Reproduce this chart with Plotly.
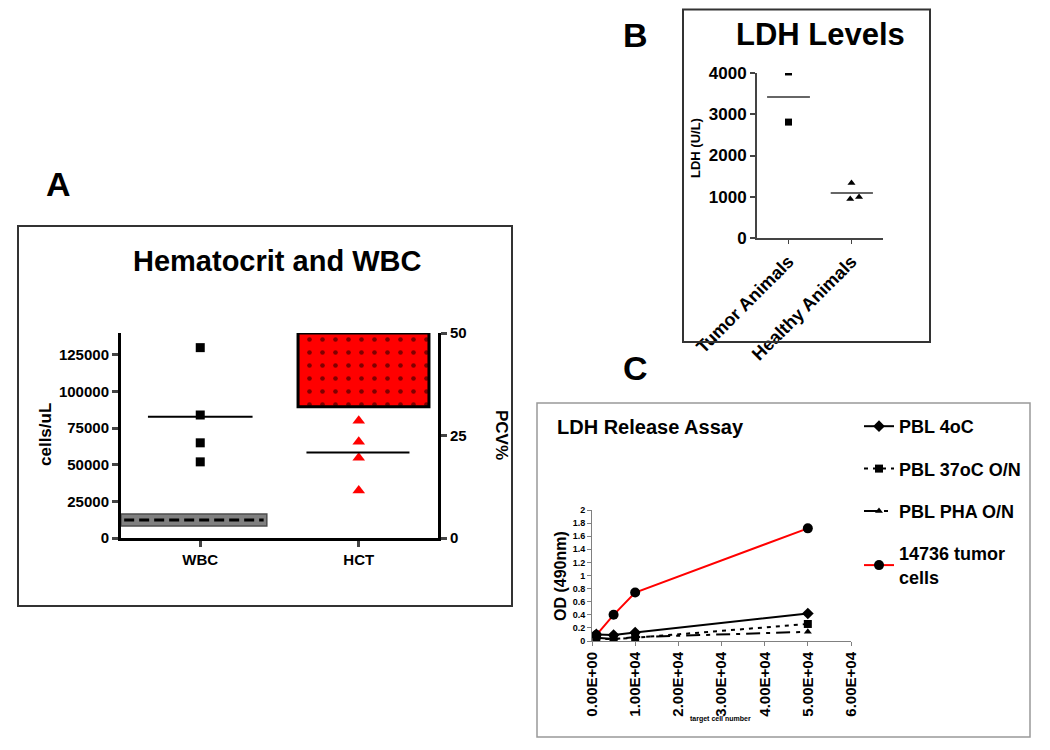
import numpy as np
import plotly.graph_objects as go

# page body has an 8px margin, so the figure origin sits at (8, 8) in the window
OFF = 8
W, H = 1042, 742
def px(x): return (x - OFF) / W
def py(y): return 1 - (y - OFF) / H

FONT = "Liberation Sans, Arial, sans-serif"

# ---------------- Panel A data ----------------
a_categories = ["WBC", "HCT"]
wbc_values = [130000, 84000, 65000, 52000]          # cells/uL
hct_values = [28.6, 23.5, 19.6, 11.6]               # PCV%
wbc_normal_range = [8200, 16400]                    # cells/uL
hct_normal_range = [32, 50]                         # PCV%
a_left_ticks = [0, 25000, 50000, 75000, 100000, 125000]
a_right_ticks = [0, 25, 50]

# ---------------- Panel B data ----------------
b_categories = ["Tumor Animals", "Healthy Animals"]
ldh_tumor = [4025, 2810]
ldh_healthy = [1333, 945, 994]
ldh_healthy_jitter = [0.0, -0.02, 0.12]
b_ticks = [0, 1000, 2000, 3000, 4000]

# ---------------- Panel C data ----------------
target_cells = [1000, 5000, 10000, 50000]
pbl_4oc = [0.10, 0.09, 0.13, 0.42]
pbl_37oc = [0.03, 0.03, 0.05, 0.26]
pbl_pha = [0.05, 0.03, 0.06, 0.14]
tumor_14736 = [0.09, 0.40, 0.74, 1.72]
c_xticks = [0, 10000, 20000, 30000, 40000, 50000, 60000]
c_xticklabels = ["0.00E+00", "1.00E+04", "2.00E+04", "3.00E+04", "4.00E+04", "5.00E+04", "6.00E+04"]

fig = go.Figure()

# ---- Panel A ----
lo, hi = wbc_normal_range
fig.add_trace(go.Bar(x=[-0.04], y=[hi - lo], base=[lo], width=[0.92],
                     marker=dict(color="#808080", line=dict(color="#4d4d4d", width=1.5)),
                     xaxis="x", yaxis="y", showlegend=False, hoverinfo="skip"))
mid = np.mean(wbc_normal_range)
fig.add_trace(go.Scatter(x=[-0.48, 0.40], y=[mid, mid], mode="lines",
                         line=dict(color="black", width=3, dash="10px,5px"),
                         xaxis="x", yaxis="y", showlegend=False, hoverinfo="skip"))
fig.add_trace(go.Scatter(x=[0] * len(wbc_values), y=wbc_values, mode="markers",
                         marker=dict(symbol="square", size=9, color="black"),
                         xaxis="x", yaxis="y", showlegend=False))
m = np.mean(wbc_values)
fig.add_trace(go.Scatter(x=[-0.33, 0.33], y=[m, m], mode="lines",
                         line=dict(color="black", width=2),
                         xaxis="x", yaxis="y", showlegend=False))

lo2, hi2 = hct_normal_range
fig.add_trace(go.Bar(x=[1.03], y=[hi2 - lo2], base=[lo2], width=[0.826],
                     marker=dict(color="red", line=dict(color="black", width=3),
                                 pattern=dict(shape=".", fgcolor="black", bgcolor="red",
                                              size=13, solidity=0.1)),
                     xaxis="x", yaxis="y2", showlegend=False, hoverinfo="skip"))
fig.add_trace(go.Scatter(x=[1] * len(hct_values), y=hct_values, mode="markers",
                         marker=dict(symbol="triangle-up", size=11, color="red"),
                         xaxis="x", yaxis="y2", showlegend=False))
m2 = np.mean(hct_values)
fig.add_trace(go.Scatter(x=[0.67, 1.32], y=[m2, m2], mode="lines",
                         line=dict(color="black", width=2),
                         xaxis="x", yaxis="y2", showlegend=False))

# ---- Panel B ----
fig.add_trace(go.Scatter(x=[0] * len(ldh_tumor), y=ldh_tumor, mode="markers",
                         marker=dict(symbol="square", size=7, color="black"),
                         cliponaxis=True, xaxis="x3", yaxis="y3", showlegend=False))
mt = np.mean(ldh_tumor)
fig.add_trace(go.Scatter(x=[-0.34, 0.34], y=[mt, mt], mode="lines",
                         line=dict(color="#666666", width=2),
                         xaxis="x3", yaxis="y3", showlegend=False))
fig.add_trace(go.Scatter(x=[1 + j for j in ldh_healthy_jitter], y=ldh_healthy, mode="markers",
                         marker=dict(symbol="triangle-up", size=7, color="black"),
                         xaxis="x3", yaxis="y3", showlegend=False))
mh = np.mean(ldh_healthy)
fig.add_trace(go.Scatter(x=[0.67, 1.34], y=[mh, mh], mode="lines",
                         line=dict(color="#333333", width=1.5),
                         xaxis="x3", yaxis="y3", showlegend=False))

# ---- Panel C ----
series = [
    ("PBL 4oC", pbl_4oc, "black", "solid", "diamond", 9, "g1"),
    ("PBL 37oC O/N", pbl_37oc, "black", "4px,5px", "square", 8, "g2"),
    ("PBL PHA O/N", pbl_pha, "black", "14px,6px,4px,6px", "triangle-up", 7, "g3"),
    ("14736 tumor<br>cells", tumor_14736, "red", "solid", "circle", 10, "g4"),
]
for name, vals, col, dash, sym, sz, grp in series:
    fig.add_trace(go.Scatter(x=target_cells, y=vals, mode="lines+markers", name=name,
                             line=dict(color=col, width=2, dash=dash),
                             marker=dict(symbol=sym, size=sz, color="black"),
                             legendgroup=grp, xaxis="x4", yaxis="y4"))

bold = dict(family=FONT, color="black", weight="bold")

fig.update_layout(
    width=W, height=H, margin=dict(l=0, r=0, t=0, b=0, autoexpand=False),
    paper_bgcolor="white", plot_bgcolor="rgba(0,0,0,0)",
    barmode="overlay", font=dict(family=FONT, color="black"),
    xaxis=dict(domain=[px(121), px(438)], range=[-0.5, 1.5], anchor="y", automargin=False,
               tickvals=[0, 1], ticktext=a_categories, ticks="outside", ticklen=6, tickwidth=3,
               showline=True, linewidth=3, linecolor="black", showgrid=False, zeroline=False,
               tickfont=dict(size=15, **bold), fixedrange=True),
    yaxis=dict(domain=[py(538), py(333)], range=[0, 140000], anchor="x", automargin=False,
               tickvals=a_left_ticks, tickformat="d", ticks="outside", ticklen=6, tickwidth=3,
               showline=True, linewidth=3, linecolor="black", showgrid=False, zeroline=False,
               tickfont=dict(size=15, **bold)),
    yaxis2=dict(range=[0, 50], overlaying="y", side="right", anchor="x", automargin=False,
                tickvals=a_right_ticks, ticks="outside", ticklen=6, tickwidth=3,
                showline=True, linewidth=3, linecolor="black", showgrid=False, zeroline=False,
                tickfont=dict(size=15, **bold)),
    xaxis3=dict(domain=[px(757), px(883)], range=[-0.5, 1.5], anchor="y3", automargin=False,
                tickvals=[0, 1], ticktext=b_categories, tickangle=-45, ticks="outside", ticklen=4,
                showline=True, linewidth=2, linecolor="#444444", tickcolor="#444444",
                showgrid=False, zeroline=False, tickfont=dict(size=18, **bold)),
    yaxis3=dict(domain=[py(238), py(73)], range=[0, 4000], anchor="x3", automargin=False,
                tickvals=b_ticks, ticks="outside", ticklen=5, tickwidth=2,
                showline=True, linewidth=2, linecolor="#444444", tickcolor="#444444",
                showgrid=False, zeroline=False, tickfont=dict(size=17, **bold)),
    xaxis4=dict(domain=[px(592), px(851)], range=[0, 60000], anchor="y4", automargin=False,
                tickvals=c_xticks, ticktext=c_xticklabels, tickangle=-90, ticks="outside", ticklen=4,
                showline=True, linewidth=1, linecolor="#808080", tickcolor="#808080",
                showgrid=False, zeroline=False, tickfont=dict(size=15, **bold)),
    yaxis4=dict(domain=[py(641), py(510)], range=[0, 2], dtick=0.2, anchor="x4", automargin=False,
                ticks="outside", ticklen=4, showline=True, linewidth=1, linecolor="#808080",
                tickcolor="#808080", showgrid=False, zeroline=False,
                tickfont=dict(size=9, **bold)),
    legend=dict(x=px(859), y=py(408), xanchor="left", yanchor="top",
                font=dict(size=18, **bold), traceorder="grouped", tracegroupgap=16,
                bgcolor="rgba(0,0,0,0)", itemwidth=30),
)

shapes = [
    dict(type="rect", xref="paper", yref="paper", x0=px(18), x1=px(512), y0=py(606), y1=py(226),
         line=dict(color="#333333", width=2)),
    dict(type="rect", xref="paper", yref="paper", x0=px(683), x1=px(930), y0=py(342), y1=py(9.5),
         line=dict(color="#333333", width=2)),
    dict(type="rect", xref="paper", yref="paper", x0=px(537), x1=px(1030), y0=py(737), y1=py(403),
         line=dict(color="#999999", width=1.5)),
]
fig.update_layout(shapes=shapes)

def ann(text, x, y, size, angle=0, xanchor="center", weight="bold"):
    fig.add_annotation(text=text, x=px(x), y=py(y), xref="paper", yref="paper",
                       showarrow=False, textangle=angle, xanchor=xanchor, yanchor="middle",
                       font=dict(family=FONT, size=size, color="black", weight=weight))

ann("A", 58, 184, 34)
ann("B", 635, 35, 34)
ann("C", 635, 368, 34)
ann("Hematocrit and WBC", 277, 261, 29)
ann("cells/uL", 45, 435, 17, angle=-90)
ann("PCV%", 502, 435, 17, angle=90)
ann("LDH Levels", 820, 34, 31)
ann("LDH (U/L)", 696, 148, 13, angle=-90)
ann("LDH Release Assay", 555, 427, 20, xanchor="left")
ann("OD (490nm)", 560, 576, 16, angle=-90)
ann("target cell number", 720, 719, 7)

fig.write_html("out.html")
